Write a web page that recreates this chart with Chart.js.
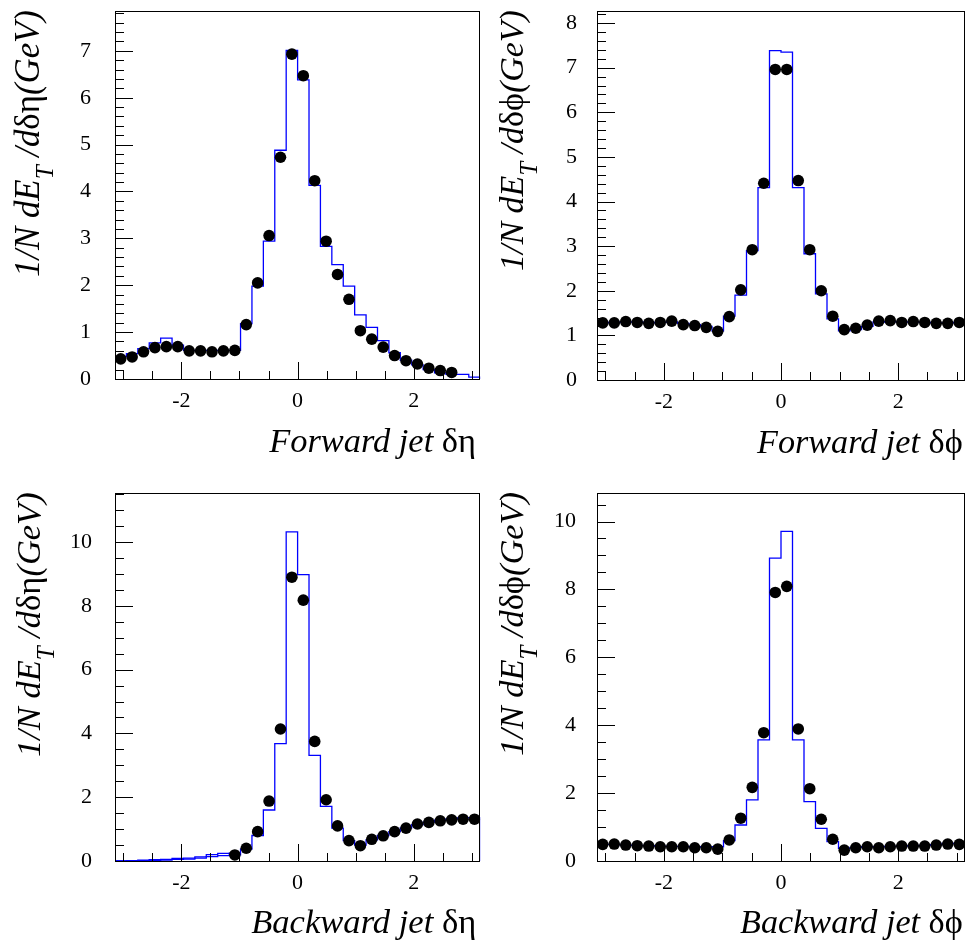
<!DOCTYPE html>
<html>
<head>
<meta charset="utf-8">
<script src="https://cdn.jsdelivr.net/npm/chart.js@4.4.1/dist/chart.umd.min.js"></script>
<style>
  html, body { margin: 0; padding: 0; background: #fff; }
  #wrap { position: relative; width: 973px; height: 945px; }
  .panel { position: absolute; }
  canvas { display: block; }
</style>
</head>
<body>
<div id="wrap">
  <div class="panel" style="left:0px;top:0px"><canvas id="c1" width="486" height="470"></canvas></div>
  <div class="panel" style="left:486px;top:0px"><canvas id="c2" width="487" height="470"></canvas></div>
  <div class="panel" style="left:0px;top:470px"><canvas id="c3" width="486" height="475"></canvas></div>
  <div class="panel" style="left:486px;top:470px"><canvas id="c4" width="487" height="475"></canvas></div>
</div>
<script>
// 32 bins over [-pi, pi]
const nBins = 32;
const binWidth = 2 * Math.PI / nBins;
const binEdges = Array.from({ length: nBins + 1 }, (_, i) => -Math.PI + i * binWidth);
const binCenters = binEdges.slice(0, -1).map(e => e + binWidth / 2);

// axis tick labels
const xTickLabels = [-2, 0, 2];
const yTicksFwdEta = [0, 1, 2, 3, 4, 5, 6, 7];
const yTicksFwdPhi = [0, 1, 2, 3, 4, 5, 6, 7, 8];
const yTicksBwdEta = [0, 2, 4, 6, 8, 10];
const yTicksBwdPhi = [0, 2, 4, 6, 8, 10];

// Forward jet delta eta : data points (bins 0..29) and MC histogram (bins 0..31)
const fwdEtaData = [0.43, 0.47, 0.58, 0.67, 0.69, 0.69, 0.60, 0.60, 0.58, 0.60, 0.61,
  1.16, 2.05, 3.06, 4.73, 6.93, 6.47, 4.23, 2.94, 2.23, 1.70, 1.03, 0.85, 0.68,
  0.50, 0.39, 0.32, 0.23, 0.18, 0.14];
const fwdEtaMC = [0.48, 0.54, 0.65, 0.77, 0.87, 0.72, 0.61, 0.61, 0.61, 0.61, 0.61,
  1.18, 1.98, 2.94, 4.88, 7.01, 6.38, 4.13, 2.83, 2.44, 1.98, 1.37, 1.10, 0.82,
  0.56, 0.40, 0.30, 0.20, 0.13, 0.10, 0.10, 0.04];

// Forward jet delta phi
const fwdPhiData = [1.28, 1.28, 1.31, 1.29, 1.27, 1.29, 1.32, 1.24, 1.22, 1.18, 1.09,
  1.42, 2.02, 2.92, 4.41, 6.96, 6.96, 4.47, 2.92, 2.00, 1.43, 1.13, 1.16, 1.23,
  1.32, 1.33, 1.29, 1.31, 1.29, 1.27, 1.27, 1.29];
const fwdPhiMC = [1.28, 1.29, 1.30, 1.30, 1.28, 1.29, 1.30, 1.27, 1.24, 1.20, 1.10,
  1.43, 1.90, 2.90, 4.31, 7.38, 7.35, 4.31, 2.83, 1.93, 1.37, 1.10, 1.13, 1.20,
  1.30, 1.31, 1.30, 1.30, 1.29, 1.28, 1.28, 1.29];

// Backward jet delta eta : data points start at bin 10
const bwdEtaData = [null, null, null, null, null, null, null, null, null, null,
  0.19, 0.40, 0.92, 1.88, 4.14, 8.90, 8.18, 3.75, 1.92, 1.10, 0.64, 0.48, 0.68,
  0.79, 0.92, 1.03, 1.16, 1.21, 1.26, 1.29, 1.31, 1.31];
const bwdEtaMC = [0.00, 0.00, 0.01, 0.02, 0.03, 0.05, 0.06, 0.09, 0.14, 0.17, 0.19,
  0.37, 0.80, 1.60, 3.68, 10.32, 8.98, 3.31, 1.71, 1.03, 0.64, 0.50, 0.66, 0.80,
  0.92, 1.04, 1.14, 1.22, 1.28, 1.32, 1.35, 1.36];
// second (upper) MC line, only visible at negative delta eta
const bwdEtaMC2 = [0.00, 0.01, 0.03, 0.04, 0.05, 0.08, 0.09, 0.13, 0.20, 0.24, 0.25];

// Backward jet delta phi
const bwdPhiData = [0.49, 0.50, 0.47, 0.45, 0.44, 0.42, 0.42, 0.42, 0.39, 0.39, 0.35,
  0.62, 1.26, 2.17, 3.78, 7.91, 8.09, 3.89, 2.13, 1.23, 0.64, 0.32, 0.39, 0.42,
  0.39, 0.42, 0.44, 0.44, 0.44, 0.47, 0.50, 0.49];
const bwdPhiMC = [0.49, 0.49, 0.47, 0.46, 0.45, 0.44, 0.43, 0.43, 0.42, 0.41, 0.42,
  0.60, 1.06, 1.80, 3.57, 8.92, 9.71, 3.57, 1.75, 0.96, 0.57, 0.37, 0.40, 0.42,
  0.42, 0.43, 0.44, 0.45, 0.46, 0.48, 0.52, 0.52];

const SERIF = '"Liberation Serif", "Times New Roman", serif';

function pointSeries(vals) {
  const pts = [];
  vals.forEach((v, i) => { if (v !== null) pts.push({ x: binCenters[i], y: v }); });
  return pts;
}

// step outline: each value holds from its bin's left edge to the next edge
function histSeries(vals, closeEnds) {
  const pts = [];
  if (closeEnds) pts.push({ x: binEdges[0], y: 0 });
  vals.forEach((v, i) => pts.push({ x: binEdges[i], y: v }));
  pts.push({ x: binEdges[vals.length], y: closeEnds ? 0 : vals[vals.length - 1] });
  return pts;
}

// draw text made of italic / upright / subscript pieces, ending at x = 0,
// scaled so the whole string is `len` pixels long
function drawRich(ctx, segs, len) {
  const base = 30;
  const fontOf = (s, size) => (s.up ? '' : 'italic ') + (s.sub ? size * 0.72 : size).toFixed(1) + 'px ' + SERIF;
  let w = 0;
  segs.forEach(s => { ctx.font = fontOf(s, base); w += ctx.measureText(s.t).width; });
  const size = base * len / w;
  let x = -len;
  ctx.fillStyle = '#000';
  ctx.textAlign = 'left';
  ctx.textBaseline = 'alphabetic';
  segs.forEach(s => {
    ctx.font = fontOf(s, size);
    ctx.fillText(s.t, x, s.sub ? size * 0.4 : 0);
    x += ctx.measureText(s.t).width;
  });
}

const rootFrame = {
  id: 'rootFrame',
  afterDraw(chart, args, o) {
    const ctx = chart.ctx;
    const a = chart.chartArea;
    const xs = chart.scales.x, ys = chart.scales.y;
    ctx.save();
    ctx.strokeStyle = '#000';
    ctx.lineWidth = 1;
    ctx.strokeRect(Math.round(a.left) + 0.5, Math.round(a.top) + 0.5,
      Math.round(a.right - a.left) - 1, Math.round(a.bottom - a.top));
    // x ticks, inward
    ctx.beginPath();
    for (let k = -6; k <= 6; k++) {
      const v = k * 0.5;
      const px = Math.round(xs.getPixelForValue(v)) + 0.5;
      const len = (k % 4 === 0) ? 17 : 8;
      ctx.moveTo(px, a.bottom);
      ctx.lineTo(px, a.bottom - len);
    }
    // y ticks, inward
    const nMinor = Math.floor(ys.max / o.yMinor + 1e-6);
    for (let k = 0; k <= nMinor; k++) {
      const v = k * o.yMinor;
      const py = Math.round(ys.getPixelForValue(v)) + 0.5;
      const isMajor = Math.abs(v / o.yMajor - Math.round(v / o.yMajor)) < 1e-6;
      ctx.moveTo(a.left, py);
      ctx.lineTo(a.left + (isMajor ? 18 : 9), py);
    }
    ctx.stroke();

    // y title, rotated, aligned to top of frame
    ctx.save();
    ctx.translate(o.yTitleX, a.top - 1);
    ctx.rotate(-Math.PI / 2);
    drawRich(ctx, [
      { t: '1/N dE' }, { t: 'T', sub: true }, { t: ' /d' }, { t: o.sym, up: true }, { t: '(GeV)' }
    ], o.yTitleLen);
    ctx.restore();

    // x title, right aligned
    ctx.save();
    ctx.translate(a.right - o.xTitleRight, a.bottom + o.xTitleDy);
    drawRich(ctx, [{ t: o.xName + ' ' }, { t: o.sym, up: true }], o.xTitleLen);
    ctx.restore();
    ctx.restore();
  }
};

function makePanel(id, p) {
  const datasets = [
    {
      label: 'data',
      data: pointSeries(p.data),
      showLine: false,
      pointRadius: 5.8,
      pointHoverRadius: 5.8,
      pointBackgroundColor: '#000',
      pointBorderWidth: 0,
      order: 0
    },
    {
      label: 'MC',
      data: histSeries(p.mc, true),
      stepped: 'before',
      borderColor: '#0000ff',
      borderWidth: 1.3,
      pointRadius: 0,
      fill: false,
      order: 1
    }
  ];
  if (p.mc2) {
    datasets.push({
      label: 'MC 2',
      data: histSeries(p.mc2, false),
      stepped: 'before',
      borderColor: '#0000ff',
      borderWidth: 1.3,
      pointRadius: 0,
      fill: false,
      order: 2
    });
  }
  return new Chart(document.getElementById(id), {
    type: 'line',
    data: { datasets: datasets },
    options: {
      responsive: false,
      animation: false,
      devicePixelRatio: 1,
      layout: { padding: { top: p.padTop, right: p.padRight, left: 0, bottom: 0 } },
      plugins: {
        legend: { display: false },
        tooltip: { enabled: false },
        rootFrame: p.frame
      },
      scales: {
        x: {
          type: 'linear',
          min: -Math.PI,
          max: Math.PI,
          grid: { display: false, drawTicks: false },
          border: { display: false },
          afterBuildTicks: s => { s.ticks = xTickLabels.map(v => ({ value: v })); },
          afterFit: s => { s.height = p.xHeight; s.paddingLeft = 0; s.paddingRight = 0; },
          ticks: {
            color: '#000',
            padding: 9,
            maxRotation: 0,
            font: { family: SERIF, size: 22 },
            callback: v => String(v)
          }
        },
        y: {
          type: 'linear',
          min: 0,
          max: p.yMax,
          grid: { display: false, drawTicks: false },
          border: { display: false },
          afterBuildTicks: s => { s.ticks = p.yTicks.map(v => ({ value: v })); },
          afterFit: s => { s.width = p.yWidth; s.paddingTop = 0; s.paddingBottom = 0; },
          ticks: {
            color: '#000',
            padding: p.yLabelPad,
            font: { family: SERIF, size: 22 },
            callback: v => String(v)
          }
        }
      }
    },
    plugins: [rootFrame]
  });
}

makePanel('c1', {
  data: fwdEtaData, mc: fwdEtaMC, yMax: 7.85, yTicks: yTicksFwdEta,
  padTop: 11, padRight: 2, yWidth: 115, xHeight: 91, yLabelPad: 24,
  frame: { yMinor: 0.2, yMajor: 1, yTitleX: 39, yTitleLen: 267, sym: 'δη',
    xName: 'Forward jet', xTitleRight: 4, xTitleDy: 73, xTitleLen: 207 }
});
makePanel('c2', {
  data: fwdPhiData, mc: fwdPhiMC, yMax: 8.27, yTicks: yTicksFwdPhi,
  padTop: 11, padRight: 8, yWidth: 111, xHeight: 90, yLabelPad: 20,
  frame: { yMinor: 0.2, yMajor: 1, yTitleX: 37, yTitleLen: 261, sym: 'δϕ',
    xName: 'Forward jet', xTitleRight: 2, xTitleDy: 73, xTitleLen: 206 }
});
makePanel('c3', {
  data: bwdEtaData, mc: bwdEtaMC, mc2: bwdEtaMC2, yMax: 11.54, yTicks: yTicksBwdEta,
  padTop: 23, padRight: 2, yWidth: 115, xHeight: 84, yLabelPad: 23,
  frame: { yMinor: 0.5, yMajor: 2, yTitleX: 40, yTitleLen: 265, sym: 'δη',
    xName: 'Backward jet', xTitleRight: 4, xTitleDy: 72, xTitleLen: 225 }
});
makePanel('c4', {
  data: bwdPhiData, mc: bwdPhiMC, yMax: 10.84, yTicks: yTicksBwdPhi,
  padTop: 23, padRight: 8, yWidth: 111, xHeight: 84, yLabelPad: 21,
  frame: { yMinor: 0.5, yMajor: 2, yTitleX: 37, yTitleLen: 264, sym: 'δϕ',
    xName: 'Backward jet', xTitleRight: 2, xTitleDy: 72, xTitleLen: 223 }
});
</script>
</body>
</html>
